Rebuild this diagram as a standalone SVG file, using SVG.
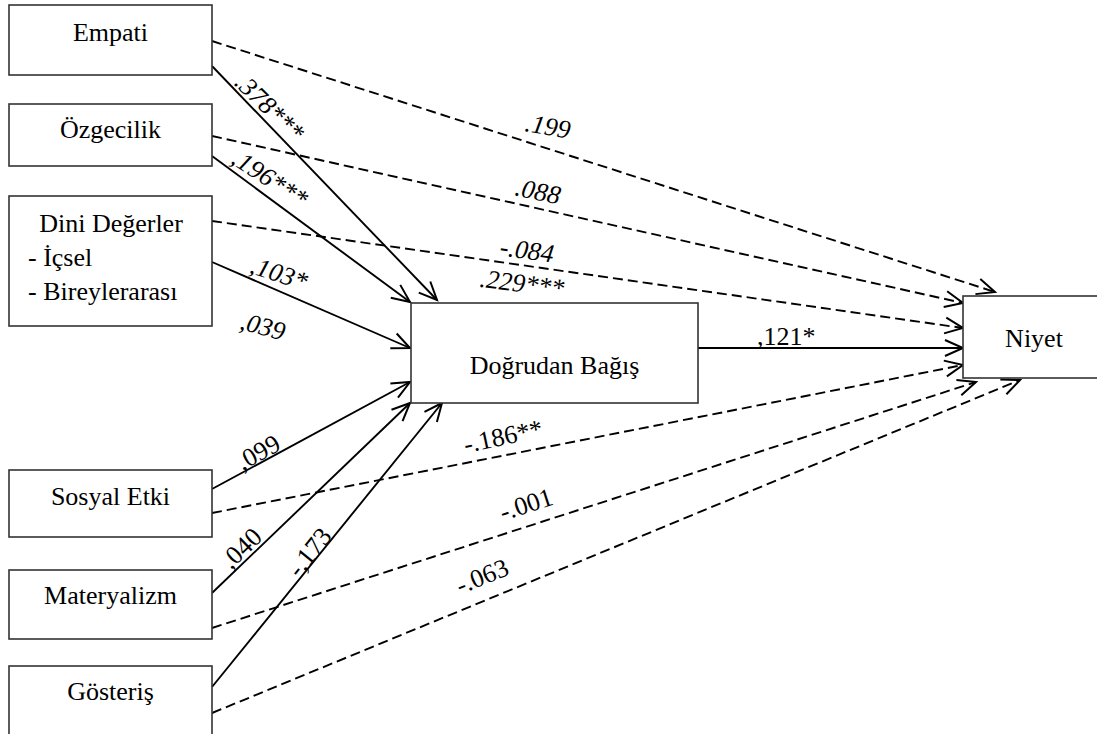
<svg xmlns="http://www.w3.org/2000/svg" width="1097" height="734" viewBox="0 0 1097 734" font-family="'Liberation Serif', serif">
<defs>
<marker id="arr" markerUnits="userSpaceOnUse" markerWidth="24" markerHeight="24" viewBox="-20 -12 24 24" refX="0" refY="0" orient="auto" overflow="visible">
<path d="M-18,-8 L0,0 L-18,8" fill="none" stroke="#000" stroke-width="2"/>
</marker>
<style>
.box{fill:#fff;stroke:#333;stroke-width:1.6}
.t{font-family:'Liberation Serif',serif;font-size:26px;fill:#000}
.c{text-anchor:middle}
.i{font-style:italic}
.s{stroke:#000;stroke-width:1.9;fill:none;marker-end:url(#arr)}
.d{stroke:#000;stroke-width:1.9;fill:none;stroke-dasharray:10 5;marker-end:url(#arr)}
</style>
</defs>
<rect width="1097" height="734" fill="#fff"/>
<g id="connectors">
<line class="s" x1="212" y1="66" x2="437" y2="300"/>
<line class="s" x1="212" y1="156" x2="410" y2="302"/>
<line class="s" x1="212" y1="262" x2="410" y2="348"/>
<line class="s" x1="212" y1="489" x2="410" y2="382"/>
<line class="s" x1="212" y1="593" x2="410" y2="403"/>
<line class="s" x1="212" y1="687" x2="442" y2="403"/>
<line class="s" x1="698" y1="348" x2="963" y2="348"/>
<line class="d" x1="212" y1="41" x2="995" y2="292"/>
<line class="d" x1="212" y1="136" x2="963" y2="303"/>
<line class="d" x1="212" y1="221" x2="963" y2="328"/>
<line class="d" x1="212" y1="513" x2="963" y2="365"/>
<line class="d" x1="212" y1="628" x2="976" y2="382"/>
<line class="d" x1="212" y1="713" x2="1020" y2="380"/>
</g>
<g id="labels" font-family="'Liberation Serif', serif">
<text class="t c i" transform="translate(270,107) rotate(44)" y="9">.378***</text>
<text class="t c i" transform="translate(270,178) rotate(33)" y="9">,196***</text>
<text class="t c i" transform="translate(548,126) rotate(10)" y="9">.199</text>
<text class="t c i" transform="translate(538,191) rotate(12)" y="9">.088</text>
<text class="t c i" transform="translate(527,250) rotate(8)" y="9">-.084</text>
<text class="t c i" transform="translate(522,283) rotate(7)" y="9">.229***</text>
<text class="t c i" transform="translate(279,273) rotate(18)" y="9">,103*</text>
<text class="t c i" transform="translate(263,326) rotate(15)" y="9">,039</text>
<text class="t" x="757" y="345">,121*</text>
<text class="t c" transform="translate(258,452) rotate(-29)" y="9">,099</text>
<text class="t c" transform="translate(241,548) rotate(-44)" y="9">,040</text>
<text class="t c" transform="translate(309,552) rotate(-51)" y="9">-,173</text>
<text class="t c" transform="translate(503,436) rotate(-12)" y="9">-.186**</text>
<text class="t c" transform="translate(526,504) rotate(-18)" y="9">-.001</text>
<text class="t c" transform="translate(482,576) rotate(-22)" y="9">-.063</text>
</g>
<g id="empati">
<rect class="box" x="9" y="5" width="203" height="70"/>
<text class="t c" x="110.5" y="41">Empati</text>
</g>
<g id="ozgecilik">
<rect class="box" x="9" y="104" width="203" height="62"/>
<text class="t c" x="110.5" y="138">Özgecilik</text>
</g>
<g id="dini">
<rect class="box" x="9" y="196" width="203" height="130"/>
<text class="t c" x="111" y="232">Dini Değerler</text>
<text class="t" x="28" y="266">- İçsel</text>
<text class="t" x="28" y="300">- Bireylerarası</text>
</g>
<g id="sosyal">
<rect class="box" x="9" y="470" width="203" height="67"/>
<text class="t c" x="110.5" y="505">Sosyal Etki</text>
</g>
<g id="materyalizm">
<rect class="box" x="9" y="570" width="203" height="69"/>
<text class="t c" x="110.5" y="604">Materyalizm</text>
</g>
<g id="gosteris">
<rect class="box" x="9" y="666" width="203" height="80"/>
<text class="t c" x="110.5" y="700">Gösteriş</text>
</g>
<g id="dogrudan">
<rect class="box" x="411" y="303" width="287" height="100"/>
<text class="t c" x="554.5" y="374">Doğrudan Bağış</text>
</g>
<g id="niyet">
<rect class="box" x="963" y="296" width="142" height="82"/>
<text class="t c" x="1034" y="347">Niyet</text>
</g>
</svg>
